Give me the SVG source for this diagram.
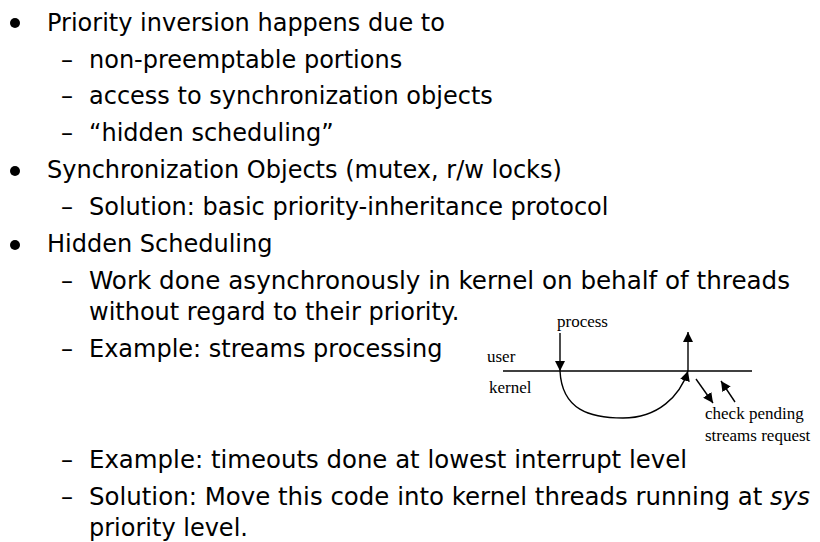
<svg xmlns="http://www.w3.org/2000/svg" width="820" height="542" viewBox="0 0 820 542">
<defs>
<style>
.t1{font-family:"DejaVu Sans","Liberation Sans",sans-serif;font-size:24px;fill:#000}
.t2{font-family:"DejaVu Sans","Liberation Sans",sans-serif;font-size:24px;fill:#000}
.d{font-family:"DejaVu Sans","Liberation Sans",sans-serif;font-size:24px;fill:#000}
.lab{font-family:"Liberation Serif","Times New Roman",serif;font-size:17px;fill:#000}
.ln{stroke:#000;stroke-width:1.4;fill:none}
</style>
<marker id="ah" viewBox="0 0 10 10" refX="10" refY="5" markerWidth="10" markerHeight="10" markerUnits="userSpaceOnUse" orient="auto">
<path d="M0,0 L10,5 L0,10 z" fill="#000"/>
</marker>
</defs>
<rect width="820" height="542" fill="#fff"/>
<g id="text">
<circle cx="15" cy="23" r="5"/>
<text class="t1" x="47" y="31">Priority inversion happens due to</text>
<text class="d" x="61" y="68">–</text><text class="t2" x="89" y="68">non-preemptable portions</text>
<text class="d" x="61" y="104">–</text><text class="t2" x="89" y="104">access to synchronization objects</text>
<text class="d" x="61" y="141">–</text><text class="t2" x="89" y="141">“hidden scheduling”</text>
<circle cx="15" cy="171" r="5"/>
<text class="t1" x="47" y="178">Synchronization Objects (mutex, r/w locks)</text>
<text class="d" x="61" y="215">–</text><text class="t2" x="89" y="215">Solution: basic priority-inheritance protocol</text>
<circle cx="15" cy="245" r="5"/>
<text class="t1" x="47" y="252">Hidden Scheduling</text>
<text class="d" x="61" y="289">–</text><text class="t2" x="89" y="289" textLength="701" lengthAdjust="spacingAndGlyphs">Work done asynchronously in kernel on behalf of threads</text>
<text class="t2" x="89" y="320">without regard to their priority.</text>
<text class="d" x="61" y="357">–</text><text class="t2" x="89" y="357">Example: streams processing</text>
<text class="d" x="61" y="468">–</text><text class="t2" x="89" y="468" textLength="598" lengthAdjust="spacingAndGlyphs">Example: timeouts done at lowest interrupt level</text>
<text class="d" x="61" y="505">–</text><text class="t2" x="89" y="505" textLength="721" lengthAdjust="spacingAndGlyphs">Solution: Move this code into kernel threads running at <tspan font-style="italic">sys</tspan></text>
<text class="t2" x="89" y="536">priority level.</text>
</g>
<g id="diagram-labels">
<text class="lab" x="557" y="327">process</text>
<text class="lab" x="487" y="362">user</text>
<text class="lab" x="489" y="393">kernel</text>
<text class="lab" x="705" y="419">check pending</text>
<text class="lab" x="705" y="441">streams request</text>
</g>
<g id="connectors">
<line class="ln" x1="503" y1="371" x2="752" y2="371"/>
<line class="ln" x1="560" y1="333" x2="560" y2="371" marker-end="url(#ah)"/>
<path class="ln" d="M560,371 C562,410 590,418 623,418 C658,418 680,396 688,371" marker-end="url(#ah)"/>
<line class="ln" x1="688" y1="371" x2="688" y2="332" marker-end="url(#ah)"/>
<line class="ln" x1="696" y1="379" x2="713" y2="403" marker-end="url(#ah)"/>
<line class="ln" x1="735" y1="402" x2="721" y2="381" marker-end="url(#ah)"/>
</g>
</svg>
